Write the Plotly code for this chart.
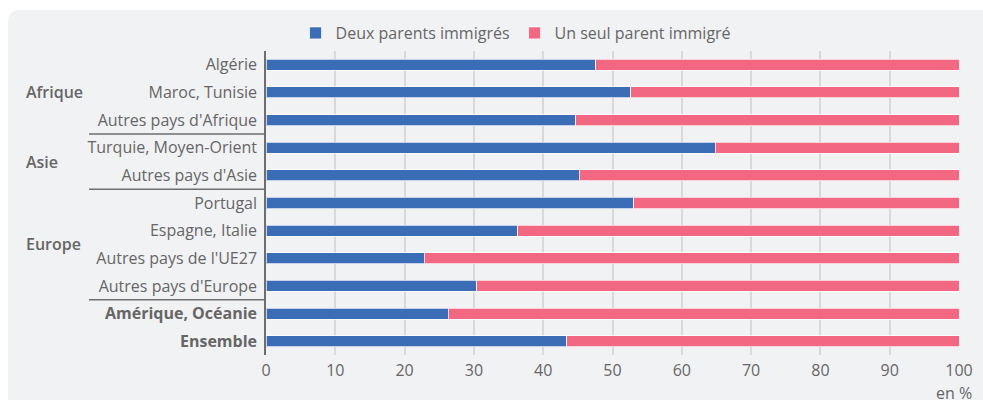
import plotly.graph_objects as go

categories = ["Algérie", "Maroc, Tunisie", "Autres pays d'Afrique",
              "Turquie, Moyen-Orient", "Autres pays d'Asie",
              "Portugal", "Espagne, Italie", "Autres pays de l'UE27",
              "Autres pays d'Europe", "Amérique, Océanie", "Ensemble"]
deux_parents = [47.6, 52.6, 44.7, 64.8, 45.2, 53.1, 36.3, 22.8, 30.4, 26.3, 43.4]
un_parent = [round(100 - v, 1) for v in deux_parents]
bold_categories = ["Amérique, Océanie", "Ensemble"]
groups = [("Afrique", 1.0), ("Asie", 3.5), ("Europe", 6.5)]
separators = [2.5, 4.5, 8.5]
x_ticks = list(range(0, 101, 10))

BLUE = "#3a6db5"
PINK = "#f26882"
TXT = "#666666"
FONT = "Open Sans"
FS = 16

W, H = 983, 400
L, R, T, B = 266, 24, 51, 45
PW, PH = W - L - R, H - T - B

def px_x(p):
    return (p - L) / PW

def px_y(p):
    return 1 - (p - T) / PH

fig = go.Figure()
fig.add_trace(go.Bar(y=categories, x=deux_parents, orientation="h",
                     name="Deux parents immigrés",
                     marker=dict(color=BLUE, line=dict(color="rgba(255,255,255,0.7)", width=1))))
fig.add_trace(go.Bar(y=categories, x=un_parent, orientation="h",
                     name="Un seul parent immigré",
                     marker=dict(color=PINK, line=dict(color="rgba(255,255,255,0.7)", width=1))))

ticktext = [f"<b>{c}</b>" if c in bold_categories else c for c in categories]

shapes = []
# rounded background panel
x0, x1 = px_x(8), px_x(983 + 20)
y0, y1 = px_y(10), px_y(400 + 20)
rx, ry = 12 / PW, 12 / PH
path = (f"M {x0+rx},{y0} L {x1},{y0} L {x1},{y1} L {x0},{y1} L {x0},{y0-ry} "
        f"Q {x0},{y0} {x0+rx},{y0} Z")
shapes.append(dict(type="path", path=path, xref="paper", yref="paper",
                   fillcolor="#f1f2f4", line=dict(width=0), layer="below"))
for s in separators:
    shapes.append(dict(type="line", xref="paper", yref="y", x0=px_x(89), x1=0,
                       y0=s, y1=s, line=dict(color="#6e6e6e", width=1.5)))

annotations = []
for name, pos in groups:
    annotations.append(dict(text=name, x=px_x(24), xref="paper", xanchor="left",
                            y=pos, yref="y", showarrow=False,
                            font=dict(family=FONT, size=FS, color=TXT, weight=600)))
annotations.append(dict(text="en %", x=px_x(974), xref="paper", xanchor="right",
                        y=px_y(393), yref="paper", yanchor="middle", showarrow=False,
                        font=dict(family=FONT, size=FS, color=TXT)))

fig.update_layout(
    width=W, height=H,
    margin=dict(l=L, r=R, t=T, b=B, pad=0, autoexpand=False),
    barmode="stack", bargap=0.6,
    paper_bgcolor="white", plot_bgcolor="rgba(0,0,0,0)",
    font=dict(family=FONT, size=FS, color=TXT),
    legend=dict(orientation="h", xref="container", x=0.525, xanchor="center",
                yref="container", y=1 - 33 / H, yanchor="middle", traceorder="normal",
                font=dict(family=FONT, size=FS, color=TXT),
                bgcolor="rgba(0,0,0,0)", itemwidth=30, tracegroupgap=0),
    xaxis=dict(range=[0, 100], tickvals=x_ticks, showgrid=True, gridcolor="#d9d9dc",
               gridwidth=1.5, zeroline=False, showline=False, ticks="outside",
               ticklen=1, tickcolor="rgba(0,0,0,0)",
               tickfont=dict(family=FONT, size=FS, color=TXT), fixedrange=True),
    yaxis=dict(categoryorder="array", categoryarray=categories, autorange="reversed",
               tickvals=categories, ticktext=ticktext, showline=True, linecolor="#6e6e6e",
               linewidth=1.5, ticks="outside", ticklen=4, tickcolor="rgba(0,0,0,0)",
               showgrid=False, tickfont=dict(family=FONT, size=FS, color=TXT)),
    shapes=shapes, annotations=annotations,
    showlegend=True,
)

fig.write_html("out.html", config={"displayModeBar": False},
               post_script="document.body.style.margin='0';")
